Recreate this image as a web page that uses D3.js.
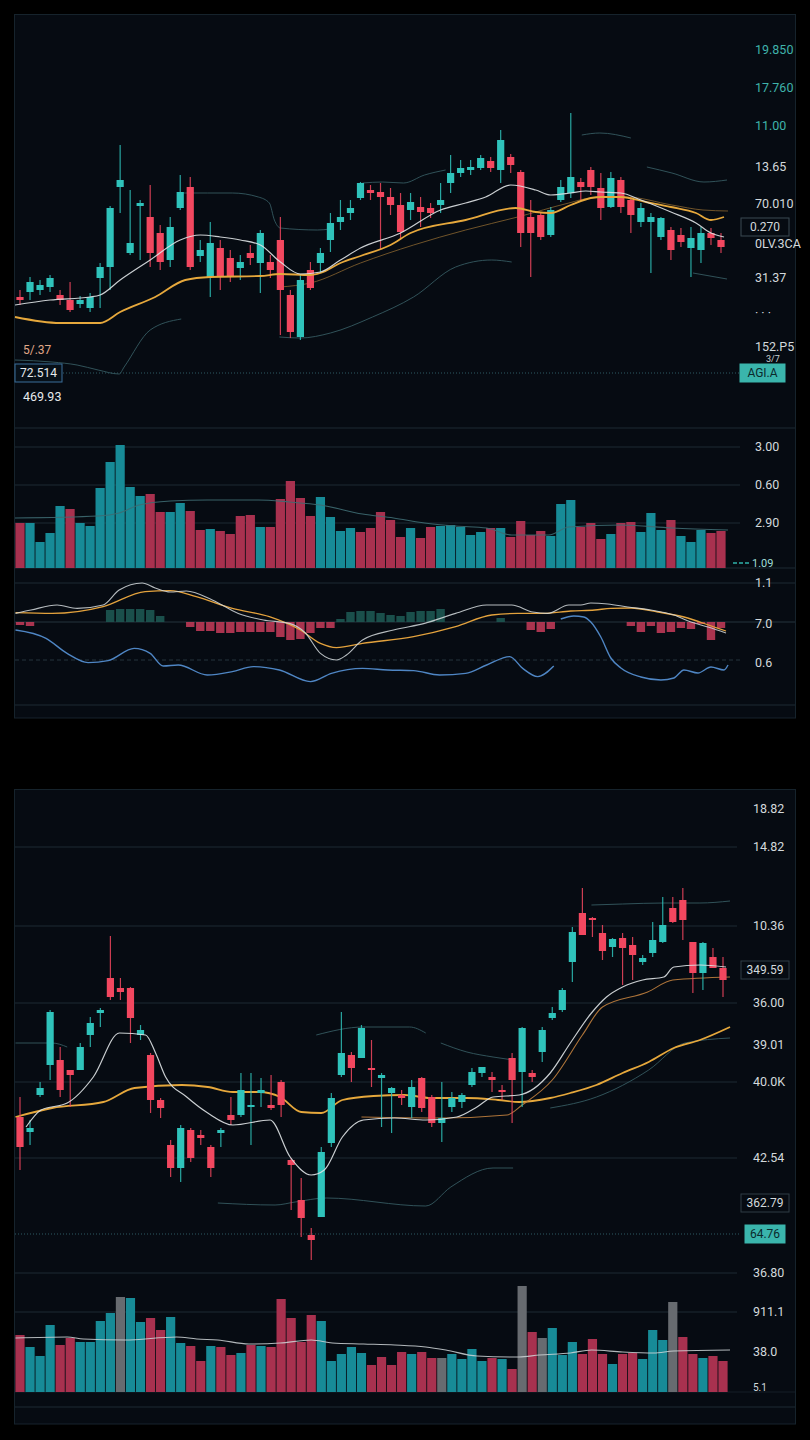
<!DOCTYPE html>
<html>
<head>
<meta charset="utf-8">
<script src="https://cdn.jsdelivr.net/npm/d3@7"></script>
<style>
  body { margin: 0; background: #000; }
  svg { display: block; font-family: "Liberation Sans Narrow", "Roboto", sans-serif; }
</style>
</head>
<body>
<div id="chart"></div>
<script>
// ---------- panel 1 : candles [open, high, low, close] ----------
const ohlc1 = [
  [20.3,21.0,19.5,20.0],[20.8,22.3,20.0,21.8],[21.0,22.0,20.5,21.5],[21.3,22.5,20.8,22.2],[20.5,21.0,19.5,20.0],
  [20.0,21.8,18.8,19.0],[19.6,20.4,19.2,20.0],[19.2,20.7,18.8,20.3],[22.2,23.7,19.2,23.3],[23.3,29.4,21.0,29.2],
  [31.3,35.5,28.7,32.0],[24.7,31.0,24.5,25.7],[29.4,30.0,24.0,29.7],[28.3,31.5,23.3,24.7],[26.7,27.5,23.0,23.8],
  [24.0,28.3,23.3,27.3],[29.2,32.5,29.0,30.8],[31.3,32.3,23.0,23.3],[24.4,26.0,23.8,25.0],[22.3,27.8,20.3,25.7],
  [25.2,26.0,21.0,22.3],[24.2,25.0,21.8,22.3],[23.2,24.5,22.0,23.8],[24.7,25.5,23.5,24.2],[23.7,27.0,20.7,26.7],
  [23.8,24.5,22.2,23.0],[26.0,28.3,16.5,21.0],[20.5,21.0,16.2,16.8],[16.3,22.5,16.0,22.0],[23.0,23.8,21.0,21.2],
  [23.7,25.2,22.7,24.7],[26.0,28.7,24.8,27.7],[27.8,30.0,27.0,28.3],[28.7,30.0,28.0,29.2],[30.2,31.8,30.0,31.7],
  [31.0,31.5,30.0,30.7],[30.8,31.7,25.0,30.3],[30.3,31.2,28.5,29.5],[29.5,30.7,26.0,26.8],[29.0,30.7,28.0,29.8],
  [29.3,30.3,27.3,28.8],[29.2,29.7,28.2,28.7],[29.5,31.7,28.7,30.0],[31.7,34.5,30.7,32.7],[32.7,34.0,32.3,33.2],
  [33.0,34.0,32.5,33.3],[33.2,34.5,33.0,34.2],[33.9,34.3,32.8,33.2],[33.0,37.0,31.7,36.0],[34.3,34.6,32.7,33.5],
  [32.8,33.0,25.3,26.7],[28.3,30.0,22.3,26.7],[28.5,28.8,26.0,26.3],[26.5,29.3,26.3,29.0],[30.0,32.0,29.8,31.3],
  [30.7,38.7,30.2,32.3],[31.8,32.2,30.0,31.3],[33.0,33.3,30.5,31.3],[31.2,32.7,28.0,29.2],[29.3,32.8,29.2,32.2],
  [32.0,32.3,28.7,29.3],[30.0,30.3,26.7,28.5],[27.8,29.7,27.3,29.2],[27.8,28.7,22.7,28.3],[26.3,28.3,26.0,28.2],
  [27.0,27.3,24.0,25.0],[26.5,27.2,25.3,25.8],[25.2,27.3,22.3,26.2],[25.0,27.3,23.7,26.7],[26.7,27.2,25.5,26.2],
  [26.0,26.7,24.7,25.3]
];
// moving averages / bands, points are [candle index, price]
const maYellow1 = [[-0.5,18.3],[4,17.7],[8,17.7],[10,18.8],[13.5,20.3],[16.5,22.0],[19,22.3],[24,22.4],[26,22.6],[29,22.5],[30,22.7],[32,23.7],[34,24.4],[37,25.5],[39,26.7],[44.5,28.0],[49.5,29.2],[51.5,28.8],[53,28.7],[55,29.5],[57,30.2],[58,30.3],[60,30.3],[62.5,29.8],[65,29.3],[67.5,28.7],[69,28.0],[70.3,28.3]];
const maWhite1 = [[-0.5,19.5],[3,20.0],[7,20.3],[8,20.5],[10,22.0],[13,24.0],[16,26.0],[18,26.5],[20,26.3],[22,26.0],[24,25.5],[26,23.8],[28,22.6],[30,22.8],[32,24.0],[34,25.2],[38,26.7],[42,29.0],[44.5,29.7],[46.5,30.3],[49,31.5],[51.5,31.0],[53,30.5],[55,30.7],[56.5,30.9],[58,30.8],[60,30.7],[62,30.0],[65,28.8],[67.5,27.7],[69,26.7],[70.3,26.3]];
const maBrown1 = [[26,21.3],[29,21.7],[34,23.7],[39.3,25.5],[44.5,27.0],[49.7,28.3],[54.8,29.7],[57,30.2],[60.5,30.3],[65.1,29.5],[68.2,29.0],[70.7,28.9]];
const bandUpper1 = [[16.1,30.7],[18.7,30.7],[21.2,30.7],[23.8,30.3],[24.9,29.7],[25.4,28.0],[26,27.2],[29.7,27.0],[31,27.1],null,
  [34.2,31.7],[36.2,31.8],[38.3,31.7],[40.4,32.5],[42.5,33.0],null,[56.1,36.5],[57.9,36.7],[61,36.2],null,
  [62.6,33.3],[65.1,32.7],[68.3,31.8],[70.6,32.0]];
const bandLower1 = [[-0.5,14.0],[3.2,13.8],[5.7,13.5],[7.8,13.0],[9.9,12.6],[10.4,13.3],[13,17.0],[16.1,18.1],null,
  [25.9,16.3],[28,16.2],[31,16.7],[35.2,18.3],[39.3,20.3],[43.5,23.3],[47.1,24.0],[49.1,23.8],null,[67.2,22.7],[70.6,22.1]];
const priceTicks1 = [45.0, 41.2, 37.4, 33.3, 29.6, 25.6, 22.2, 18.7, 15.3];
const priceTickText1 = ["19.850", "17.760", "11.00", "13.65", "70.010", "0LV.3CA", "31.37", "· · ·", "152.P5"];
const subTag1 = { value: 14.1, text: "3/7" };
const boxTag1 = { value: 27.3, text: "0.270" };
const lastTag1 = { value: 12.7, text: "AGI.A" };
const leftTags1 = [{ value: 15.0, text: "5/.37" }, { value: 12.7, text: "72.514" }, { value: 10.3, text: "469.93" }];

// panel 1 volume
const vol1 = [45,45,26,35,62,59,45,42,80,106,123,81,72,74,56,56,65,57,38,39,37,34,52,53,41,41,69,87,70,52,
  71,51,37,40,36,40,56,48,31,40,30,41,42,43,41,33,36,40,40,31,47,33,37,32,64,68,41,45,29,34,45,46,36,55,38,48,32,26,38,35,37];
const volSide1 = ("duuuuduuuu" + "uuudduuddu" + "dddduddddd" + "uuuudddddu" + "dduuuuudud" + "ddduuudddu" + "dduuuduuudd").split("");
const volMa1 = [[-0.5,50],[7.8,52],[9.9,55],[11.9,63],[15,67],[18.7,68],[23.8,68],[26.9,66],[30,63],[34.2,54],[37.3,50],[40.4,45],[43.5,42],[46.6,40],[49.1,33],[52.8,33],[54.8,41],[60,43],[65.1,40],[70.7,38]];
const volTicks1 = [121, 83, 45];
const volTickText1 = ["3.00", "0.60", "2.90"];
const volTag1 = { value: 5, text: "1.09" };

// panel 1 MACD
const macdHist1 = [-0.15,-0.2,0,0,0,0,0,0,0,0.6,0.65,0.65,0.65,0.6,0.3,0,0,-0.25,-0.45,-0.45,-0.55,-0.55,-0.5,-0.5,-0.5,-0.5,-0.75,-0.9,-0.85,-0.55,
  -0.3,-0.3,0.15,0.5,0.55,0.55,0.45,0.35,0.3,0.5,0.55,0.55,0.65,0,0,0,0,0,0.2,0,0,-0.4,-0.5,-0.35,0,0,0,0,0,0,0,-0.2,-0.5,-0.2,-0.55,-0.5,-0.3,-0.35,-0.1,-0.9,-0.3];
const macdDif1 = [[-0.45,0.43],[1.1,0.6],[3.7,0.85],[5.7,0.68],[8.3,0.85],[9.9,1.6],[12.2,1.95],[13.5,1.7],[15,1.5],[16.6,1.55],[19.2,1.1],[21.8,0.43],[24.3,0.1],[26.9,-0.07],[28.5,-0.55],[30,-1.57],[31.6,-1.9],[32.6,-1.65],[34.2,-0.9],[37.3,-0.4],[40.4,-0.07],[43.5,0.43],[46.6,0.85],[49.1,0.85],[51.2,0.5],[52.7,0.43],[54.8,0.85],[56,0.85],[57,0.95],[58.7,0.9],[60.7,0.75],[63,0.6],[65.3,0.35],[67,0],[68.7,-0.25],[70.5,-0.55]];
const macdDea1 = [[-0.45,0.47],[3.2,0.43],[8.3,0.77],[12.5,1.52],[15,1.57],[17.6,1.27],[21.2,0.68],[24.9,0.27],[28,-0.4],[30,-1.07],[31.6,-1.28],[34.2,-1.07],[39.3,-0.73],[43.5,-0.23],[47.1,0.35],[49.7,0.43],[52.2,0.43],[55,0.55],[57.4,0.6],[59,0.68],[61,0.7],[63.7,0.5],[66.3,0.25],[69.3,-0.25],[70.5,-0.45]];
const macdBlue1 = [[-0.45,-0.4],[2.6,-0.82],[4.7,-1.57],[6.8,-2.03],[8.8,-1.93],[11.4,-1.32],[13,-1.57],[14.3,-2.2],[15.8,-2.15],[18.7,-2.65],[21.2,-2.48],[23.3,-2.23],[25.9,-2.4],[29,-2.98],[31.1,-2.57],[34.2,-2.32],[36.7,-2.4],[39.3,-2.43],[41.9,-2.65],[44.5,-2.57],[46.6,-2.15],[48.9,-1.73],[50.2,-2.32],[51.7,-2.73],[53.3,-2.2],null,
  [54,0.15],[55.3,0.3],[56.3,0.25],[57,0],[58,-0.75],[59,-1.8],[60,-2.3],[62,-2.75],[64,-2.9],[65.3,-2.8],[66.3,-2.4],[67.7,-2.55],[69,-2.25],[70.3,-2.4],[70.7,-2.15]];
const macdTicks1 = [1.95, -0.1, -2.05];
const macdTickText1 = ["1.1", "7.0", "0.6"];

// ---------- panel 2 ----------
const ohlc2 = [
  [18.3,20.3,13.0,15.3],[16.8,18.0,15.5,17.2],[20.5,21.8,20.3,21.2],[23.5,29.0,22.0,28.8],[24.0,25.3,20.3,21.0],
  [23.0,23.0,19.3,22.5],[23.0,25.7,23.0,25.3],[26.5,28.3,25.3,27.7],[28.7,29.2,27.3,29.0],[32.2,36.4,30.0,30.3],
  [31.2,32.2,30.0,30.8],[31.2,31.3,25.7,28.2],[26.5,27.5,26.0,27.0],[24.5,24.7,18.7,20.0],[20.0,20.2,18.2,19.2],
  [15.5,16.0,12.3,13.2],[13.2,17.5,11.8,17.2],[17.0,17.2,13.8,14.2],[16.5,17.0,15.5,16.2],[15.3,15.5,12.3,13.2],
  [16.7,17.2,15.3,17.0],[18.5,20.3,17.5,18.0],[18.5,22.7,18.3,21.0],[19.3,22.7,15.5,19.5],[20.7,22.2,19.3,21.0],
  [19.5,22.5,19.0,19.2],[21.8,22.0,18.3,19.5],[14.0,14.2,9.0,13.5],[10.0,12.2,6.3,8.2],[6.5,7.2,4.0,6.0],
  [8.3,15.3,8.3,14.8],[15.7,20.7,15.3,20.2],[22.5,28.8,22.3,24.7],[24.5,24.8,21.8,23.2],[24.2,27.5,24.2,27.2],
  [23.2,26.0,21.3,23.0],[22.2,22.7,17.3,22.5],[20.7,21.3,16.7,21.2],[20.5,21.0,19.5,20.2],[19.3,22.0,18.2,21.3],
  [22.2,22.3,18.8,19.2],[20.3,20.5,17.3,17.7],[17.7,21.8,15.8,18.2],[19.3,20.8,18.8,20.2],[19.8,20.7,19.2,20.5],
  [21.5,23.2,21.3,22.8],[22.7,23.3,22.3,23.3],[22.3,22.8,20.8,22.0],[21.0,21.5,20.0,20.8],[24.2,24.7,17.7,22.0],
  [22.8,27.3,19.3,27.2],[22.7,23.0,21.8,22.3],[24.8,27.3,23.8,27.0],[28.2,29.3,28.0,28.7],[29.0,31.2,28.8,31.0],
  [33.8,37.3,31.8,36.8],[38.7,41.2,36.5,36.5],[38.2,38.3,36.3,38.0],[36.7,37.5,34.0,34.9],[35.3,36.2,34.3,36.1],
  [36.2,36.7,31.5,35.2],[35.5,36.3,32.0,34.5],[33.8,34.5,33.5,34.2],[34.7,37.8,34.3,36.0],[35.8,40.3,35.7,37.5],
  [39.2,40.3,37.7,37.8],[40.0,41.2,36.0,38.0],[35.8,35.8,30.7,32.7],[32.7,35.8,31.0,35.7],[34.3,35.2,33.2,33.2],
  [33.2,34.3,30.3,32.0]
];
const maYellow2 = [[-0.45,18.3],[3.2,19.2],[8.3,19.8],[11.4,21.2],[16.1,21.5],[18.7,21.3],[21.2,20.8],[23.8,20.8],[25.9,20.3],[28,18.8],[30,18.7],[32.1,20.0],[35.2,20.4],[38.3,20.5],[40.9,20.2],[44.5,20.2],[47.6,20.0],[49.7,19.8],[52.8,20.2],[54.8,20.7],[57.4,21.5],[60,22.7],[62.6,23.8],[65.1,25.2],[67.7,26.0],[70.7,27.3]];
const maWhite2 = [[0.6,17.3],[2.1,19.0],[4.7,19.7],[7.3,22.3],[9.9,26.7],[12.5,26.5],[13.5,24.7],[14.5,22.3],[16.6,20.3],[18.7,18.7],[21.2,17.5],[24.9,18.0],[26.9,14.3],[29,12.5],[30.3,13.0],[32.1,16.3],[34.2,18.0],[37.3,18.2],[40.4,18.0],[43.5,18.3],[45.5,19.3],[47.1,20.3],[49.7,20.5],[52.8,22.7],[54.8,25.7],[56.9,28.7],[58.4,30.3],[60,31.3],[62,32.0],[64.1,32.3],[65.1,33.3],[67.7,33.5],[70.3,33.3]];
const maOrange2 = [[34,18.3],[42,18.2],[48.5,18.5],[50,19.5],[53,22.0],[56,26.5],[58,29.3],[62.5,30.8],[65,32.0],[70.7,32.3]];
const bandUpper2 = [[-0.45,25.7],[3.2,25.7],[4.7,25.3],null,[29.5,26.5],[34.2,27.3],[38.8,27.3],[40.4,26.7],null,
  [41.9,25.7],[44.5,24.8],[47.1,24.3],[49.1,24.0],null,[56.9,39.5],[60,39.6],[64.1,39.7],[67.7,39.7],[70.7,39.9]];
const bandLower2 = [[19.7,9.7],[25.4,9.5],[27.4,9.8],[30.5,10.2],[40.4,9.4],[42.9,11.3],[47.1,13.2],[49.1,13.2],null,
  [52.8,19.2],[57.4,20.3],[62.6,23.0],[66.2,25.7],[70.7,26.2]];
const priceGrid2 = [45.3, 37.4, 29.7, 21.8, 14.2];
const priceTicks2 = [49.1, 45.3, 37.4, 29.7, 25.5, 21.8, 14.2];
const priceTickText2 = ["18.82", "14.82", "10.36", "36.00", "39.01", "40.0K", "42.54"];
const boxTags2 = [{ value: 33.0, text: "349.59" }, { value: 9.7, text: "362.79" }];
const lastTag2 = { value: 6.6, text: "64.76" };

const vol2 = [57,45,36,67,47,54,50,50,71,79,95,94,70,74,62,75,49,46,31,46,45,37,39,47,46,45,93,74,50,77,
  71,31,38,45,39,27,35,27,40,38,40,34,34,38,33,43,31,34,33,23,106,60,54,64,37,50,38,53,38,28,38,39,33,62,52,90,55,38,34,36,31];
const volSide2 = ("duuudduuuu" + "nuudduuddu" + "ddududdddd" + "uuuuuddddu" + "ddnuuuudud" + "ndnuuudddu" + "dduuunddudd").split("");
const volMa2 = [[-0.45,54],[4.7,55],[6.3,53],[10.4,52],[15.6,55],[17.6,53],[19.7,52],[22.8,48],[25.9,49],[29,52],[31.1,49],[34.2,48],[37.3,47],[40.4,45],[42.4,42],[45.5,36],[49.7,35],[51.7,37],[54.8,39],[56.9,42],[60,40],[63.1,39],[65.1,41],[70.7,42]];
const volTicks2 = [119, 80, 40, 5];
const volTickText2 = ["36.80", "911.1", "38.0", "5.1"];

// ---------- drawing ----------
const W = 810, H = 1440;
const UP = "#2fc3bb", DOWN = "#f2475f";
const VUP = "#178b97", VDOWN = "#a8314f", VNEU = "#676b70";
const GRID = "#1c2a33";

const svg = d3.select("#chart").append("svg").attr("width", W).attr("height", H);
svg.append("rect").attr("width", W).attr("height", H).attr("fill", "#000");

function frame(y0, y1) {
  svg.append("rect").attr("x", 14.5).attr("y", y0).attr("width", 781).attr("height", y1 - y0)
    .attr("fill", "#060b12").attr("stroke", "#16232c").attr("stroke-width", 1);
}
function hline(y, opts = {}) {
  svg.append("line").attr("x1", 15).attr("x2", opts.x2 || 795).attr("y1", y).attr("y2", y)
    .attr("stroke", opts.color || GRID).attr("stroke-width", opts.w || 1)
    .attr("stroke-dasharray", opts.dash || null);
}
function drawCandles(data, x, y) {
  const g = svg.append("g");
  const c = g.selectAll("g").data(data).join("g");
  c.append("line")
    .attr("x1", (d, i) => x(i)).attr("x2", (d, i) => x(i))
    .attr("y1", d => y(d[1])).attr("y2", d => y(d[2]))
    .attr("stroke", d => d[3] >= d[0] ? UP : DOWN).attr("stroke-width", 1.2).attr("opacity", 0.85);
  c.append("rect")
    .attr("x", (d, i) => x(i) - 3.6).attr("width", 7.2)
    .attr("y", d => y(Math.max(d[0], d[3])))
    .attr("height", d => Math.max(1.5, Math.abs(y(d[0]) - y(d[3]))))
    .attr("fill", d => d[3] >= d[0] ? UP : DOWN);
}
function drawLine(pts, x, y, color, w, op = 1) {
  const line = d3.line().defined(d => d !== null).x(d => x(d[0])).y(d => y(d[1])).curve(d3.curveMonotoneX);
  svg.append("path").datum(pts).attr("d", line).attr("fill", "none")
    .attr("stroke", color).attr("stroke-width", w).attr("opacity", op);
}
function drawVolume(vals, side, x, y, base) {
  svg.append("g").selectAll("rect").data(vals).join("rect")
    .attr("x", (d, i) => x(i) - 4.6).attr("width", 9.2)
    .attr("y", d => y(d)).attr("height", d => base - y(d))
    .attr("fill", (d, i) => side[i] === "u" ? VUP : side[i] === "d" ? VDOWN : VNEU);
}
function label(xp, yp, text, color, size = 12.5, anchor = "start") {
  return svg.append("text").attr("x", xp).attr("y", yp).attr("dy", "0.35em")
    .attr("fill", color).attr("font-size", size).attr("text-anchor", anchor).text(text);
}
function boxLabel(xp, yp, w, text, stroke, fill, color) {
  svg.append("rect").attr("x", xp).attr("y", yp - 9).attr("width", w).attr("height", 18)
    .attr("fill", fill).attr("stroke", stroke).attr("stroke-width", 1);
  label(xp + w / 2, yp, text, color, 12, "middle");
}

// ===== panel 1 =====
frame(14.5, 718);
const x1 = d3.scaleLinear().domain([0, 70]).range([20, 721]);
const yP1 = d3.scaleLinear().domain([10, 46]).range([400, 40]);
const yV1 = d3.scaleLinear().domain([0, 130]).range([568, 438]);
const yM1 = d3.scaleLinear().domain([-4, 2]).range([702, 582]);

hline(yP1(lastTag1.value), { color: "#2d5a63", dash: "1,2", x2: 740 });
hline(428);
volTicks1.forEach(v => hline(yV1(v), { x2: 740 }));
hline(568);
hline(yM1(macdTicks1[0]));
hline(yM1(0), { color: "#24343d" });
hline(yM1(-1.9), { dash: "4,3", color: "#24343d", x2: 740 });
hline(705);

drawLine(bandUpper1, x1, yP1, "#355a60", 1, 0.9);
drawLine(bandLower1, x1, yP1, "#355a60", 1, 0.9);
drawLine(maBrown1, x1, yP1, "#8a6530", 1, 0.8);
drawCandles(ohlc1, x1, yP1);
drawLine(maYellow1, x1, yP1, "#e6a83c", 1.8);
drawLine(maWhite1, x1, yP1, "#dfe3e6", 1.2, 0.9);

priceTicks1.forEach((v, i) => {
  label(755, yP1(v), priceTickText1[i], i < 3 ? "#3fb3ab" : "#d3d9dc", 12.5);
});
label(766, yP1(subTag1.value), subTag1.text, "#c9d0d3", 9);
boxLabel(741, yP1(boxTag1.value), 48, boxTag1.text, "#3b4a52", "#060b12", "#d3d9dc");
boxLabel(740, yP1(lastTag1.value), 45, lastTag1.text, "#3ab5ac", "#3ab5ac", "#0b2a2c");
label(23, yP1(leftTags1[0].value), leftTags1[0].text, "#e0a888", 12);
boxLabel(15, yP1(leftTags1[1].value), 47, leftTags1[1].text, "#3a6e9a", "#071018", "#e6eaec");
label(23, yP1(leftTags1[2].value), leftTags1[2].text, "#e6eaec", 12.5);

drawVolume(vol1, volSide1, x1, yV1, 568);
drawLine(volMa1, x1, yV1, "#3e6c72", 1.1, 0.9);
volTicks1.forEach((v, i) => label(755, yV1(v), volTickText1[i], "#d3d9dc"));
svg.append("line").attr("x1", 733).attr("x2", 750).attr("y1", yV1(volTag1.value)).attr("y2", yV1(volTag1.value))
  .attr("stroke", "#2fb3aa").attr("stroke-width", 1.5).attr("stroke-dasharray", "4,2");
label(752, yV1(volTag1.value), volTag1.text, "#9fded8", 11);

svg.append("g").selectAll("rect").data(macdHist1).join("rect")
  .attr("x", (d, i) => x1(i) - 4.2).attr("width", 8.4)
  .attr("y", d => yM1(Math.max(0, d))).attr("height", d => Math.abs(yM1(d) - yM1(0)))
  .attr("fill", d => d >= 0 ? "#1d5752" : "#c83c5a").attr("opacity", d => d >= 0 ? 0.9 : 0.85);
drawLine(macdBlue1, x1, yM1, "#4f86c4", 1.4);
drawLine(macdDea1, x1, yM1, "#e3a23d", 1.3);
drawLine(macdDif1, x1, yM1, "#d5dadd", 1.1, 0.85);
macdTicks1.forEach((v, i) => label(755, yM1(v), macdTickText1[i], "#d3d9dc"));

// ===== panel 2 =====
frame(789.5, 1424);
const x2 = d3.scaleLinear().domain([0, 70]).range([20, 723]);
const yP2 = d3.scaleLinear().domain([0, 50]).range([1300, 800]);
const yV2 = d3.scaleLinear().domain([0, 120]).range([1392, 1272]);

priceGrid2.forEach(v => hline(yP2(v), { x2: 737 }));
hline(yP2(lastTag2.value), { color: "#2d5a63", dash: "1,2", x2: 740 });
hline(yV2(volTicks2[0]), { x2: 737 });
hline(yV2(volTicks2[1]), { x2: 737 });
hline(1392, { color: "#141f27" });
hline(1407);

drawLine(bandUpper2, x2, yP2, "#355a60", 1, 0.9);
drawLine(bandLower2, x2, yP2, "#355a60", 1, 0.9);
drawLine(maYellow2, x2, yP2, "#e6a83c", 1.8);
drawLine(maOrange2, x2, yP2, "#c0803e", 1.1, 0.9);
drawCandles(ohlc2, x2, yP2);
drawLine(maWhite2, x2, yP2, "#dfe3e6", 1.2, 0.9);

priceTicks2.forEach((v, i) => label(753, yP2(v), priceTickText2[i], "#d3d9dc"));
boxTags2.forEach(t => boxLabel(741, yP2(t.value), 48, t.text, "#2f3d45", "#060b12", "#d3d9dc"));
boxLabel(745, yP2(lastTag2.value), 40, lastTag2.text, "#3ab5ac", "#3ab5ac", "#0b2a2c");

drawVolume(vol2, volSide2, x2, yV2, 1392);
drawLine(volMa2, x2, yV2, "#d0d6d8", 1.1, 0.85);
volTicks2.forEach((v, i) => label(753, yV2(v), volTickText2[i], "#d3d9dc", i === 3 ? 10 : 12.5));
</script>
</body>
</html>
